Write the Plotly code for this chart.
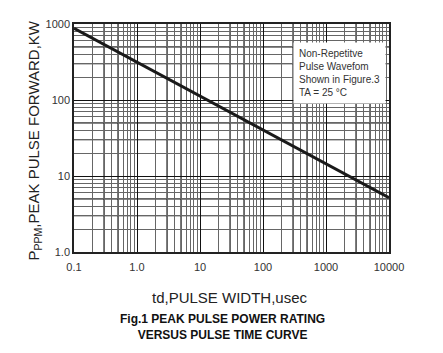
import numpy as np
import plotly.graph_objects as go

# Data
pulse_width_us = [0.1, 1, 10, 100, 1000, 10000]
peak_power_kw = [877, 315, 113, 40.5, 14.5, 5.2]

x_tick_vals = [0.1, 1, 10, 100, 1000, 10000]
x_tick_text = ["0.1", "1.0", "10", "100", "1000", "10000"]
y_tick_vals = [1, 10, 100, 1000]
y_tick_text = ["1.0", "10", "100", "1000"]

W, H = 443, 353
L, R, T, B = 74, 54, 24, 101

fig = go.Figure()
fig.add_trace(go.Scatter(x=pulse_width_us, y=peak_power_kw, mode="lines",
                         line=dict(color="#1a1a1a", width=3), showlegend=False,
                         hoverinfo="skip"))

axis_common = dict(type="log", showline=True, linecolor="#222", linewidth=1.5,
                   mirror=True, ticks="", showgrid=True, gridcolor="#111",
                   gridwidth=1.3, zeroline=False,
                   tickfont=dict(family="Liberation Sans, Arial", size=11, color="#333"),
                   minor=dict(dtick="D1", showgrid=True, gridcolor="#666", gridwidth=1.2, ticks=""))

fig.update_xaxes(range=[-1, 4], tickvals=x_tick_vals, ticktext=x_tick_text, ticklabelstandoff=4, **axis_common)
fig.update_yaxes(range=[0, 3], tickvals=y_tick_vals, ticktext=y_tick_text, **axis_common)

# extra darker minor lines (log paper look)
for dec in range(-1, 4):
    for m in (3, 5):
        fig.add_vline(x=m * 10 ** dec, line=dict(color="#111", width=1.2), layer="below")
for dec in range(0, 3):
    for m in (3, 5):
        fig.add_hline(y=m * 10 ** dec, line=dict(color="#111", width=1.2), layer="below")

fig.add_annotation(xref="paper", yref="paper", x=0.695, y=0.92, xanchor="left", yanchor="top",
                   align="left", showarrow=False, bgcolor="white", borderpad=5,
                   text="Non-Repetitve<br>Pulse Wavefom<br>Shown in Figure.3<br>TA = 25 °C",
                   font=dict(family="Liberation Sans, Arial", size=10, color="#333"))

fig.add_annotation(xref="paper", yref="paper", x=(230 - L) / (W - L - R), y=-(297 - (H - B)) / (H - T - B),
                   showarrow=False, text="td,PULSE WIDTH,usec", yanchor="middle",
                   font=dict(family="Liberation Sans, Arial", size=15, color="#222"))
fig.add_annotation(xref="paper", yref="paper", x=-(L - 22) / (W - L - R), y=(H - B - 141) / (H - T - B),
                   showarrow=False, text="P<sub>PPM</sub>,PEAK PULSE FORWARD,KW", textangle=-90,
                   font=dict(family="Liberation Sans, Arial", size=15, color="#222"))
fig.add_annotation(xref="paper", yref="paper", x=(222 - L) / (W - L - R), y=-(327 - (H - B)) / (H - T - B),
                   showarrow=False, yanchor="middle",
                   text="<b>Fig.1 PEAK PULSE POWER RATING<br>VERSUS PULSE TIME CURVE</b>",
                   font=dict(family="Liberation Sans, Arial", size=12, color="#111"))

fig.update_layout(width=W, height=H, margin=dict(l=L, r=R, t=T, b=B),
                  paper_bgcolor="white", plot_bgcolor="white")
fig.write_html("out.html")
